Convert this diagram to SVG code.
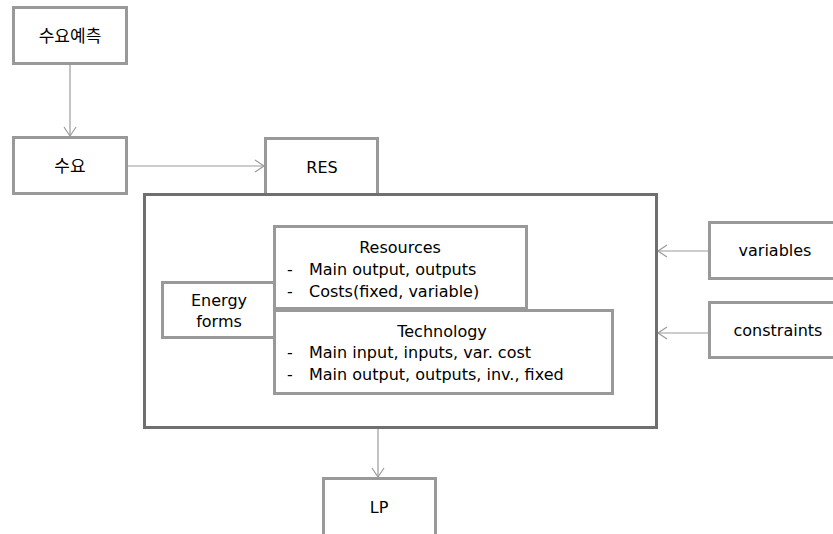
<svg xmlns="http://www.w3.org/2000/svg" width="833" height="534" viewBox="0 0 833 534">
<defs>
<style>
.box{fill:#fff;stroke:#999;stroke-width:3}
.big{fill:#fff;stroke:#6f6f6f;stroke-width:3}
.t{font-family:"DejaVu Sans","Noto Sans CJK KR",sans-serif;font-size:16px;fill:#000}
.k{font-family:"Noto Sans CJK KR","DejaVu Sans",sans-serif;font-size:17px;fill:#000}
.c{text-anchor:middle}
.ln{stroke:#9a9a9a;stroke-width:1.2;fill:none}
</style>
<marker id="ah" markerWidth="12" markerHeight="14" refX="10" refY="7" orient="auto" markerUnits="userSpaceOnUse">
<path d="M1,1 L10,7 L1,13" fill="none" stroke="#9a9a9a" stroke-width="1.2"/>
</marker>
</defs>
<rect width="833" height="534" fill="#fff"/>
<g id="connectors">
<line class="ln" x1="70" y1="64" x2="70" y2="136" marker-end="url(#ah)"/>
<line class="ln" x1="128" y1="166" x2="264" y2="166" marker-end="url(#ah)"/>
<line class="ln" x1="708" y1="251" x2="658" y2="251" marker-end="url(#ah)"/>
<line class="ln" x1="708" y1="333" x2="658" y2="333" marker-end="url(#ah)"/>
<line class="ln" x1="378" y1="429" x2="378" y2="477" marker-end="url(#ah)"/>
</g>
<g id="forecast">
<rect class="box" x="13.5" y="7.5" width="113" height="56"/>
<text class="k c" x="70" y="42">수요예측</text>
</g>
<g id="demand">
<rect class="box" x="13.5" y="137.5" width="113" height="56"/>
<text class="k c" x="70" y="172">수요</text>
</g>
<g id="res">
<rect class="box" x="265.5" y="138.5" width="112" height="56"/>
<text class="t c" x="322" y="173">RES</text>
</g>
<g id="model">
<rect class="big" x="144.5" y="194.5" width="512" height="233"/>
</g>
<g id="resources">
<rect class="box" x="274.5" y="226.5" width="252" height="82"/>
<text class="t c" x="400" y="253">Resources</text>
<text class="t" x="287" y="275">-</text>
<text class="t" x="309" y="275">Main output, outputs</text>
<text class="t" x="287" y="297">-</text>
<text class="t" x="309" y="297">Costs(fixed, variable)</text>
</g>
<g id="technology">
<rect class="box" x="274.5" y="310.5" width="338" height="83"/>
<text class="t c" x="442" y="337">Technology</text>
<text class="t" x="287" y="358">-</text>
<text class="t" x="309" y="358">Main input, inputs, var. cost</text>
<text class="t" x="287" y="380">-</text>
<text class="t" x="309" y="380">Main output, outputs, inv., fixed</text>
</g>
<g id="energy">
<rect class="box" x="162.5" y="282.5" width="112" height="55"/>
<text class="t c" x="219" y="306">Energy</text>
<text class="t c" x="219" y="327">forms</text>
</g>
<g id="variables">
<rect class="box" x="709.5" y="222.5" width="130" height="56"/>
<text class="t c" x="775" y="256">variables</text>
</g>
<g id="constraints">
<rect class="box" x="709.5" y="302.5" width="130" height="55"/>
<text class="t c" x="778" y="336">constraints</text>
</g>
<g id="lp">
<rect class="box" x="323.5" y="478.5" width="112" height="62"/>
<text class="t c" x="379" y="513">LP</text>
</g>
</svg>
